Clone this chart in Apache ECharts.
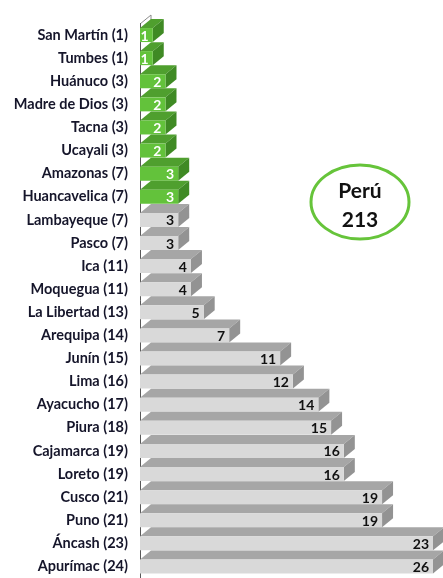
<!DOCTYPE html>
<html>
<head>
<meta charset="utf-8">
<script src="https://cdn.jsdelivr.net/npm/echarts@6/dist/echarts.min.js"></script>
<style>
  html, body { margin: 0; padding: 0; background: #fff; }
  #chart { width: 443px; height: 578px; }
</style>
</head>
<body>
<div id="chart"></div>
<script>
// regiones (ranking entre paréntesis)
const regiones = [
  'San Martín (1)', 'Tumbes (1)', 'Huánuco (3)', 'Madre de Dios (3)', 'Tacna (3)',
  'Ucayali (3)', 'Amazonas (7)', 'Huancavelica (7)', 'Lambayeque (7)', 'Pasco (7)',
  'Ica (11)', 'Moquegua (11)', 'La Libertad (13)', 'Arequipa (14)', 'Junín (15)',
  'Lima (16)', 'Ayacucho (17)', 'Piura (18)', 'Cajamarca (19)', 'Loreto (19)',
  'Cusco (21)', 'Puno (21)', 'Áncash (23)', 'Apurímac (24)',
]
const valores = [1, 1, 2, 2, 2, 2, 3, 3, 3, 3, 4, 4, 5, 7, 11, 12, 14, 15, 16, 16, 19, 19, 23, 26]
// las primeras filas van en verde
const filasVerdes = 8
const totalPeru = 213

const xMax = 23

const myChart = echarts.init(document.getElementById('chart'))

// barra 3D: cara frontal, cara superior y cara lateral
function renderItem(params, api) {
  const v = api.value(0)
  const i = api.value(1)
  const p0 = api.coord([0, i])
  const p1 = api.coord([Math.min(v, xMax), i])
  const h = 14
  const dx = 11
  const dy = 9
  const top = p0[1] - h / 2
  const verde = i < filasVerdes
  const cFront = verde ? '#63c23b' : '#d9d9d9'
  const cTop = verde ? '#4f9f2e' : '#a6a6a6'
  const cSide = verde ? '#3f8a24' : '#939393'
  return {
    type: 'group',
    children: [
      {
        type: 'polygon',
        shape: { points: [[p0[0], top], [p1[0], top], [p1[0] + dx, top - dy], [p0[0] + dx, top - dy]] },
        style: { fill: cTop },
      },
      {
        type: 'polygon',
        shape: { points: [[p1[0], top], [p1[0] + dx, top - dy], [p1[0] + dx, top - dy + h], [p1[0], top + h]] },
        style: { fill: cSide },
      },
      {
        type: 'rect',
        shape: { x: p0[0], y: top, width: p1[0] - p0[0], height: h },
        style: { fill: cFront },
      },
      {
        type: 'text',
        x: p1[0] - 4,
        y: p0[1] + 1,
        style: {
          text: String(v),
          align: 'right',
          verticalAlign: 'middle',
          fill: verde ? '#ffffff' : '#111111',
          font: 'bold 14px Lato',
        },
      },
    ],
  }
}

const option = {
  animation: false,
  grid: { left: 140, top: 23.5, width: 293, height: 559 },
  xAxis: {
    type: 'value',
    min: 0,
    max: xMax,
    show: false,
  },
  yAxis: {
    type: 'category',
    inverse: true,
    data: regiones,
    axisLine: { lineStyle: { color: '#595959', width: 1 } },
    axisTick: { length: 4, lineStyle: { color: '#595959' } },
    axisLabel: {
      margin: 12,
      fontFamily: 'Lato',
      fontWeight: 'bold',
      fontSize: 14.5,
      color: '#15152a',
    },
  },
  series: [
    {
      type: 'custom',
      renderItem: renderItem,
      encode: { x: 0, y: 1 },
      data: valores.map((v, i) => [v, i]),
    },
  ],
  graphic: [
    {
      type: 'polyline',
      shape: { points: [[140, 24], [151, 15], [151, 22]] },
      style: { stroke: '#8c8c8c', lineWidth: 1, fill: null },
    },
    {
      type: 'ellipse',
      shape: { cx: 360, cy: 202, rx: 49, ry: 37 },
      style: { fill: '#ffffff', stroke: '#66c43a', lineWidth: 3 },
    },
    {
      type: 'text',
      x: 360,
      y: 191,
      style: { text: 'Perú', align: 'center', verticalAlign: 'middle', font: 'bold 21px Lato', fill: '#111' },
    },
    {
      type: 'text',
      x: 360,
      y: 220,
      style: { text: String(totalPeru), align: 'center', verticalAlign: 'middle', font: 'bold 21px Lato', fill: '#111' },
    },
  ],
}

myChart.setOption(option)
</script>
</body>
</html>
